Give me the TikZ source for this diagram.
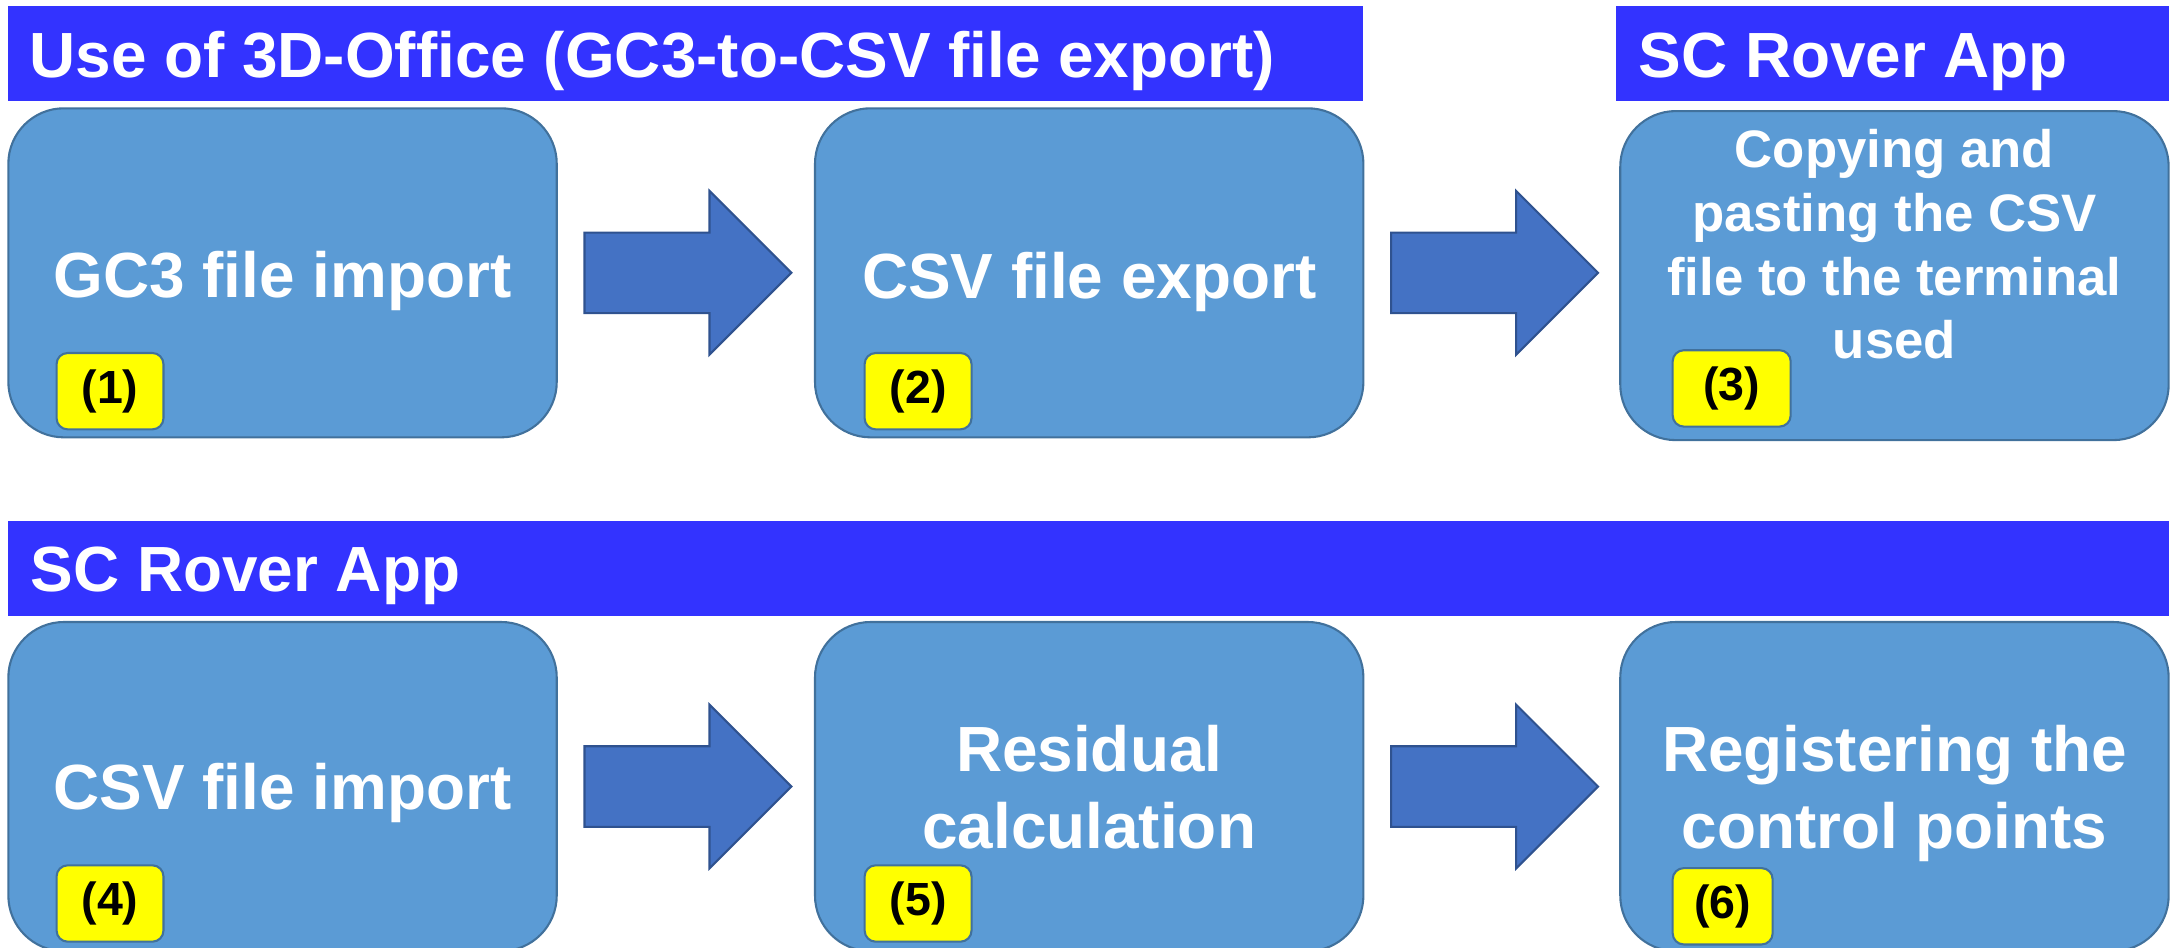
\documentclass[tikz,border=0pt]{standalone}
\usepackage{fontspec}
\setmainfont{Liberation Sans}
\usetikzlibrary{calc}
\definecolor{barBlue}{HTML}{3333FF}
\definecolor{stageFill}{HTML}{5B9BD5}
\definecolor{stageEdge}{HTML}{41719C}
\definecolor{flowFill}{HTML}{4472C4}
\definecolor{flowEdge}{HTML}{2F528F}
\definecolor{tagYellow}{HTML}{FFFF00}

\begin{document}
\begin{tikzpicture}[x=1pt,y=-1pt,
    bar/.style={fill=barBlue,inner sep=0pt,outer sep=0pt,minimum height=69pt,anchor=north west},
    bartext/.style={text=white,font=\bfseries\fontsize{46}{55}\selectfont,inner sep=0pt,anchor=base west},
    stage/.style={draw=stageEdge,line width=1.5pt,fill=stageFill,rounded corners=40pt,
      minimum width=395pt,minimum height=237pt,inner sep=0pt,outer sep=0pt,anchor=north west},
    stagetext/.style={text=white,font=\bfseries\fontsize{46}{55}\selectfont,align=center,inner sep=0pt,anchor=base},
    smalltext/.style={stagetext,font=\bfseries\fontsize{38}{46}\selectfont},
    tag/.style={draw=stageEdge,line width=1.5pt,fill=tagYellow,rounded corners=8pt,minimum width=77pt,
      minimum height=55pt,inner sep=0pt,anchor=south west,font=\bfseries\fontsize{33.5}{40}\selectfont},
    flow/.style={draw=flowEdge,line width=1.5pt,fill=flowFill,line join=miter}]
  \useasboundingbox (0,0) rectangle (1568,682.8);

  % title bars
  \node[bar,minimum width=976pt] (bar1) at (6,4) {};
  \node[bar,minimum width=398pt] (bar2) at (1164,4) {};
  \node[bar,minimum width=1556pt] (bar3) at (6,375) {};
  \node[bartext] (head1) at ($(bar1.north west)+(15,52)$) {Use of 3D-Office (GC3-to-CSV file export)};
  \node[bartext] (head2) at ($(bar2.north west)+(16,52)$) {SC Rover App};
  \node[bartext] (head3) at ($(bar3.north west)+(16,51)$) {SC Rover App};

  % steps
  \node[stage] (s1) at (6,78) {};
  \node[stage] (s2) at (587,78) {};
  \node[stage] (s3) at (1167,80) {};
  \node[stage] (s4) at (6,448) {};
  \node[stage] (s5) at (587,448) {};
  \node[stage] (s6) at (1167,448) {};

  % multi-line texts sit on their last baseline
  \node[stagetext] (t1) at ($(s1.center)+(0,17.5)$) {GC3 file import};
  \node[stagetext] (t2) at ($(s2.center)+(0,18.5)$) {CSV file export};
  \node[smalltext] (t3) at ($(s3.center)+(0,60)$) {Copying and\\pasting the CSV\\file to the terminal\\used};
  \node[stagetext] (t4) at ($(s4.center)+(0,16.5)$) {CSV file import};
  \node[stagetext] (t5) at ($(s5.center)+(0,44.5)$) {Residual\\calculation};
  \node[stagetext] (t6) at ($(s6.center)+(0,44.5)$) {Registering the\\control points};

  % step numbers
  \node[tag] (n1) at ($(s1.south west)+(34,-5)$) {(1)};
  \node[tag] (n2) at ($(s2.south west)+(35,-5)$) {(2)};
  \node[tag,minimum width=85pt] (n3) at ($(s3.south west)+(37,-9)$) {(3)};
  \node[tag] (n4) at ($(s4.south west)+(34,-6)$) {(4)};
  \node[tag] (n5) at ($(s5.south west)+(35,-6)$) {(5)};
  \node[tag,minimum width=72pt] (n6) at ($(s6.south west)+(37,-4)$) {(6)};

  % block arrows
  \foreach \a in {s1,s2,s4,s5}
    \draw[flow] ($(\a.east)+(20,-29)$) -- ++(90,0) -- ++(0,-30) -- ++(59,59)
      -- ++(-59,59) -- ++(0,-30) -- ++(-90,0) -- cycle;
\end{tikzpicture}
\end{document}
